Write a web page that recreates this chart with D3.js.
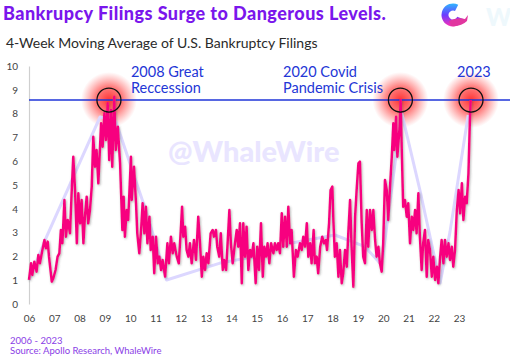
<!DOCTYPE html>
<html>
<head>
<meta charset="utf-8">
<script src="https://cdn.jsdelivr.net/npm/d3@7"></script>
<style>
  html, body { margin: 0; padding: 0; background: #fff; }
  svg { display: block; }
  text { font-family: Lato, "Open Sans", sans-serif; }
</style>
</head>
<body>
<svg id="chart" width="510" height="356"></svg>
<script>
// ---------- DATA ----------
const dates = [2006.00,2006.08,2006.13,2006.21,2006.30,2006.37,2006.43,2006.53,2006.61,2006.67,2006.74,2006.79,2006.90,2006.96,
2007.05,2007.13,2007.20,2007.26,2007.32,2007.40,2007.46,2007.53,2007.62,2007.69,2007.75,2007.82,2007.89,2007.95,
2008.02,2008.08,2008.15,2008.21,2008.28,2008.34,2008.41,2008.48,2008.54,2008.61,2008.67,2008.74,2008.85,2008.91,2008.98,
2009.04,2009.11,2009.17,2009.24,2009.29,2009.37,2009.43,2009.51,2009.60,2009.69,2009.74,2009.79,2009.86,2009.92,
2010.03,2010.06,2010.15,2010.23,2010.28,2010.36,2010.43,2010.49,2010.56,2010.62,2010.68,2010.76,2010.81,2010.89,2010.95,
2011.02,2011.09,2011.15,2011.22,2011.28,2011.38,2011.47,2011.53,2011.61,2011.68,2011.74,2011.84,2011.92,
2012.00,2012.05,2012.10,2012.17,2012.23,2012.30,2012.36,2012.43,2012.52,2012.60,2012.69,2012.76,2012.83,2012.89,2012.96,
2013.02,2013.09,2013.18,2013.26,2013.31,2013.39,2013.44,2013.52,2013.58,2013.66,2013.71,2013.79,2013.85,2013.92,2013.98,
2014.05,2014.14,2014.21,2014.27,2014.34,2014.41,2014.47,2014.54,2014.60,2014.67,2014.74,2014.80,2014.87,2014.96,
2015.02,2015.09,2015.17,2015.24,2015.30,2015.37,2015.43,2015.50,2015.57,2015.66,2015.72,2015.79,2015.85,2015.92,2015.99,
2016.05,2016.12,2016.19,2016.25,2016.32,2016.38,2016.47,2016.55,2016.62,2016.71,2016.78,2016.84,2016.91,2016.98,
2017.04,2017.11,2017.17,2017.25,2017.30,2017.37,2017.43,2017.51,2017.59,2017.66,2017.73,2017.78,2017.86,2017.92,2017.99,
2018.03,2018.09,2018.16,2018.23,2018.29,2018.36,2018.42,2018.49,2018.56,2018.62,2018.69,2018.75,2018.82,2018.89,2018.95,
2019.02,2019.08,2019.15,2019.21,2019.28,2019.35,2019.41,2019.48,2019.55,2019.61,2019.68,2019.74,2019.81,2019.87,2019.94,
2020.00,2020.07,2020.14,2020.20,2020.27,2020.34,2020.40,2020.44,2020.51,2020.56,2020.64,2020.69,2020.74,2020.79,2020.86,2020.93,2020.99,
2021.06,2021.13,2021.19,2021.26,2021.32,2021.39,2021.45,2021.52,2021.58,2021.65,2021.72,2021.78,2021.85,2021.92,2021.98,
2022.05,2022.12,2022.18,2022.25,2022.31,2022.38,2022.44,2022.51,2022.58,2022.64,2022.71,2022.77,2022.84,2022.91,2022.98,
2023.04,2023.11,2023.17,2023.24,2023.30,2023.37,2023.43,2023.46];

const values = [1.01,1.71,1.22,1.78,1.36,2.06,1.71,2.27,2.69,2.34,2.62,1.99,0.94,1.08,
1.43,1.99,2.13,3.11,2.55,4.37,2.83,3.53,2.97,4.79,6.19,4.79,2.55,4.65,
3.39,4.37,2.55,3.67,4.51,3.39,3.95,4.93,7.03,5.77,6.47,5.07,7.59,6.61,8.01,
6.89,8.43,6.05,8.15,5.77,8.71,6.47,7.45,5.91,3.11,4.51,2.83,3.95,3.53,
6.19,4.37,5.77,4.23,2.97,2.13,3.11,4.23,2.97,4.09,2.55,3.67,2.27,2.83,1.29,
2.83,1.71,1.99,1.43,1.85,1.15,2.55,1.71,2.83,2.13,2.55,1.99,1.71,
3.11,4.09,2.83,3.25,2.27,1.99,2.55,1.71,2.69,1.85,3.67,2.55,1.15,1.99,1.43,
2.13,1.71,2.97,3.11,2.83,3.11,2.41,1.99,2.97,1.43,1.85,1.43,2.55,3.95,2.55,
1.71,2.55,3.11,2.41,3.39,0.87,3.39,1.99,3.25,1.43,2.27,1.99,2.55,0.87,
2.41,1.43,3.39,1.15,2.41,1.99,2.55,1.71,2.55,2.13,2.55,2.27,2.55,2.13,3.81,
2.41,3.67,2.41,4.09,2.55,3.11,1.15,2.27,1.99,2.55,2.27,2.83,2.41,3.39,
1.99,2.55,1.71,3.11,1.71,1.99,1.29,2.41,2.83,2.55,2.69,2.27,3.39,4.79,4.93,
3.53,1.99,2.55,1.15,2.27,0.87,1.29,2.27,1.57,2.97,4.37,2.41,0.73,3.67,4.79,
5.91,5.98,3.39,1.99,1.71,3.95,2.41,3.95,3.11,3.95,2.69,1.99,2.41,1.71,1.36,
2.55,5.21,4.79,3.53,4.93,6.19,7.59,6.47,7.87,6.19,7.31,8.57,6.19,4.09,4.37,3.67,4.23,
2.55,3.67,3.11,3.95,2.97,4.65,2.83,1.43,2.55,3.11,1.15,2.69,2.27,1.15,1.99,
1.01,1.57,0.87,1.99,2.69,1.71,2.69,1.99,2.55,1.85,2.41,1.57,2.27,3.95,4.79,
3.81,5.07,3.53,4.51,4.23,5.49,7.87,8.57];

const trendDates  = [2006.00,2006.67,2008.81,2009.44,2010.65,2011.44,2013.55,2014.93,2016.38,2018.09,2019.28,2019.94,2020.73,2021.45,2022.25,2022.64,2023.36];
const trendValues = [1.01,2.77,7.86,7.65,3.82,1.01,1.72,1.99,2.56,2.90,2.41,1.64,8.03,4.79,0.88,3.03,7.94];

const threshold = 8.57;
const peakYears = [2009.16, 2020.68, 2023.47];

const yTicks = [0,1,2,3,4,5,6,7,8,9,10];
const xTickYears  = [2006,2007,2008,2009,2010,2011,2012,2013,2014,2015,2016,2017,2018,2019,2020,2021,2022,2023];
const xTickLabels = ["06","07","08","09","10","11","12","13","14","15","16","17","18","19","20","21","22","23"];

const annotationYears = [2010.03, 2016.04, 2022.92];
const annotationLines = [["2008 Great","Reccession"],["2020 Covid","Pandemic Crisis"],["2023"]];

const titleText = "Bankrupcy Filings Surge to Dangerous Levels.";
const subtitleText = "4-Week Moving Average of U.S. Bankruptcy Filings";
const footerLines = ["2006 - 2023", "Source: Apollo Research, WhaleWire"];
const watermarkText = "@WhaleWire";

// ---------- DRAW ----------
const svg = d3.select("#chart");
const x = d3.scaleLinear().domain([2006, 2024]).range([29, 29 + 18 * 25.3]);
const y = d3.scaleLinear().domain([0, 10]).range([304, 66]);

const defs = svg.append("defs");
const glow = defs.append("radialGradient").attr("id", "glow");
glow.append("stop").attr("offset", "0%").attr("stop-color", "#ff0000").attr("stop-opacity", 0.8);
glow.append("stop").attr("offset", "50%").attr("stop-color", "#ff1a1a").attr("stop-opacity", 0.55);
glow.append("stop").attr("offset", "100%").attr("stop-color", "#ff4040").attr("stop-opacity", 0);

const shadow = defs.append("filter").attr("id", "shadow").attr("x", "-5%").attr("y", "-5%").attr("width", "110%").attr("height", "110%");
shadow.append("feDropShadow").attr("dx", 0.8).attr("dy", 1).attr("stdDeviation", 1)
  .attr("flood-color", "#555").attr("flood-opacity", 0.45);

const logoGrad = defs.append("linearGradient").attr("id", "logoGrad")
  .attr("x1", "0").attr("y1", "0").attr("x2", "0").attr("y2", "1");
logoGrad.append("stop").attr("offset", "0%").attr("stop-color", "#2fb6ff");
logoGrad.append("stop").attr("offset", "50%").attr("stop-color", "#6a3cff");
logoGrad.append("stop").attr("offset", "100%").attr("stop-color", "#ff2fb4");

// Title / subtitle
svg.append("text").attr("x", 3).attr("y", 20).text(titleText)
  .attr("font-size", 18).attr("font-weight", 900).attr("letter-spacing", 0.45).attr("fill", "#7a16ec");
svg.append("text").attr("x", 6).attr("y", 48).text(subtitleText)
  .attr("font-size", 14).attr("fill", "#2a2a2a");

// Logo
const logo = svg.append("g").attr("transform", "translate(453,15)");
logo.append("path")
  .attr("d", d3.arc().innerRadius(4.5).outerRadius(11.5).startAngle(Math.PI * 0.62).endAngle(Math.PI * 2.15)())
  .attr("fill", "url(#logoGrad)");
logo.append("path").attr("d", "M-4,6 Q4,2 12,4 L15,0 L14,6 Q8,12 -2,11 Z").attr("fill", "#e1369f");
svg.append("text").attr("x", 486).attr("y", 26).text("W")
  .attr("font-size", 24).attr("font-weight", 900).attr("fill", "#eef8fc");

// Watermark
svg.append("text").attr("x", 168).attr("y", 162).text(watermarkText)
  .attr("font-size", 29).attr("font-weight", 900).attr("fill", "#e9e5ff");

// Y axis
const yAxis = svg.append("g").attr("transform", "translate(29,0)")
  .call(d3.axisLeft(y).tickValues(yTicks).tickSize(0).tickPadding(11).tickFormat(d3.format("d")));
yAxis.select(".domain").attr("stroke", "#cfcfcf").attr("stroke-width", 1.2);
yAxis.selectAll("text").attr("font-size", 10).attr("fill", "#444").attr("font-family", "Lato, sans-serif");

// X axis
const xAxis = svg.append("g").attr("transform", "translate(0,304)")
  .call(d3.axisBottom(x).tickValues(xTickYears).tickSize(0).tickPadding(11)
    .tickFormat((d, i) => xTickLabels[i]));
xAxis.select(".domain").remove();
xAxis.selectAll("text").attr("font-size", 10).attr("fill", "#444").attr("font-family", "Lato, sans-serif");

// Glows
svg.append("g").selectAll("circle").data(peakYears).join("circle")
  .attr("cx", d => x(d)).attr("cy", y(threshold)).attr("r", 28).attr("fill", "url(#glow)");

// Trend line
const pts = dates.map((d, i) => [d, values[i]]);
const tpts = trendDates.map((d, i) => [d, trendValues[i]]);
svg.append("path").datum(tpts)
  .attr("d", d3.line().x(d => x(d[0])).y(d => y(d[1])))
  .attr("fill", "none").attr("stroke", "#dcd7ff").attr("stroke-width", 3).attr("stroke-linejoin", "round");

// Threshold line
svg.append("line").attr("x1", 29).attr("x2", 510).attr("y1", y(threshold)).attr("y2", y(threshold))
  .attr("stroke", "#1f35d8").attr("stroke-width", 1.5);

// Main line
svg.append("path").datum(pts)
  .attr("d", d3.line().x(d => x(d[0])).y(d => y(d[1])))
  .attr("fill", "none").attr("stroke", "#f7067f").attr("stroke-width", 2.5)
  .attr("stroke-linejoin", "round").attr("filter", "url(#shadow)");

// Circles
svg.append("g").selectAll("circle").data(peakYears).join("circle")
  .attr("cx", d => x(d)).attr("cy", y(threshold)).attr("r", 12)
  .attr("fill", "none").attr("stroke", "#111").attr("stroke-width", 1.3);

// Annotations
annotationLines.forEach((lines, i) => {
  const t = svg.append("text").attr("x", x(annotationYears[i])).attr("y", 77)
    .attr("font-size", 14.5).attr("fill", "#2336d6");
  lines.forEach((l, j) => t.append("tspan").attr("x", x(annotationYears[i])).attr("dy", j === 0 ? 0 : 15.5).text(l));
});

// Footer
footerLines.forEach((l, i) => {
  svg.append("text").attr("x", 10).attr("y", 344 + i * 9.5).text(l)
    .attr("font-size", 9.5).attr("fill", "#8a3ee6");
});
</script>
</body>
</html>
